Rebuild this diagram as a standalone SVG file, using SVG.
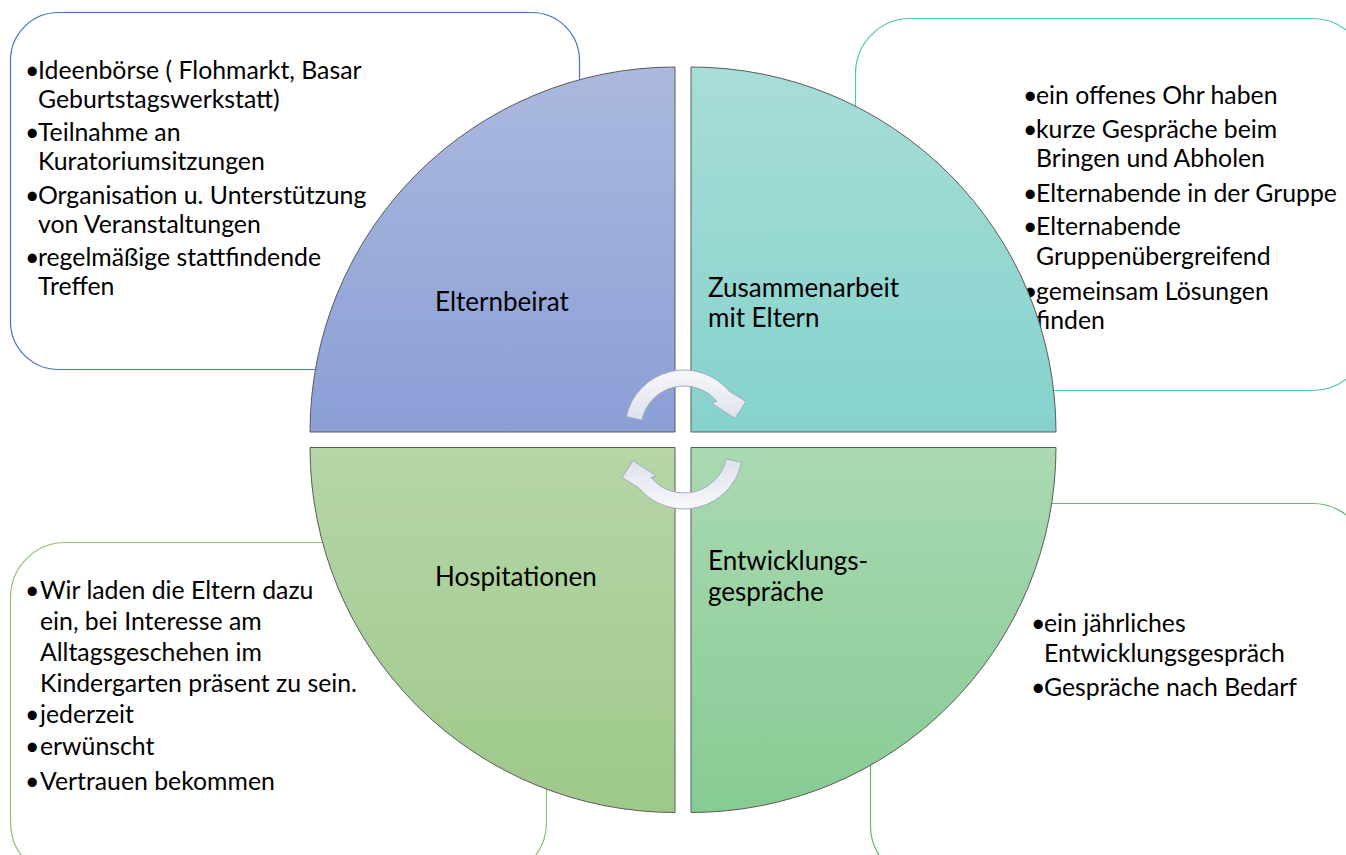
<svg xmlns="http://www.w3.org/2000/svg" width="1346" height="855" viewBox="0 0 1346 855">
<defs>
<style>
text{font-family:Lato,"Open Sans","Liberation Sans",sans-serif;font-size:24.8px;fill:#000}
.lbl{font-size:26px}
.box{fill:#fff;stroke-width:1.2}
.q{stroke:#5a5a5a;stroke-width:1}
.arr{fill:url(#ga);stroke:#a3a9bb;stroke-width:1}
</style>
<linearGradient id="g1" x1="0" y1="0" x2="0" y2="1"><stop offset="0" stop-color="#abb9de"/><stop offset="1" stop-color="#8a9fd6"/></linearGradient>
<linearGradient id="g2" x1="0" y1="0" x2="0" y2="1"><stop offset="0" stop-color="#a8ddd8"/><stop offset="1" stop-color="#85d2cc"/></linearGradient>
<linearGradient id="g3" x1="0" y1="0" x2="0" y2="1"><stop offset="0" stop-color="#b5d6a7"/><stop offset="1" stop-color="#9ec98a"/></linearGradient>
<linearGradient id="g4" x1="0" y1="0" x2="0" y2="1"><stop offset="0" stop-color="#aad9b2"/><stop offset="1" stop-color="#86cb93"/></linearGradient>
<linearGradient id="ga" x1="0" y1="0" x2="0" y2="1"><stop offset="0" stop-color="#f7f8fb"/><stop offset="1" stop-color="#dde1ec"/></linearGradient>
</defs>
<rect width="1346" height="855" fill="#fff"/>

<g id="box-elternbeirat">
<rect class="box" x="10.5" y="12.5" width="569" height="357" rx="48" stroke="#4472c4"/>
<text><tspan x="25" y="79">•</tspan><tspan x="38" y="79">Ideenbörse ( Flohmarkt, Basar</tspan></text>
<text x="38" y="108">Geburtstagswerkstatt)</text>
<text><tspan x="25" y="141">•</tspan><tspan x="38" y="141">Teilnahme an</tspan></text>
<text x="38" y="170">Kuratoriumsitzungen</text>
<text><tspan x="25" y="204">•</tspan><tspan x="38" y="204">Organisation u. Unterstützung</tspan></text>
<text x="38" y="233">von Veranstaltungen</text>
<text><tspan x="25" y="266">•</tspan><tspan x="38" y="266">regelmäßige stattfindende</tspan></text>
<text x="38" y="295">Treffen</text>
</g>

<g id="box-zusammenarbeit">
<rect class="box" x="855.5" y="18.5" width="512" height="372" rx="55" stroke="#4fc1b9"/>
<text><tspan x="1023" y="104">•</tspan><tspan x="1036" y="104">ein offenes Ohr haben</tspan></text>
<text><tspan x="1023" y="138">•</tspan><tspan x="1036" y="138">kurze Gespräche beim</tspan></text>
<text x="1036" y="167">Bringen und Abholen</text>
<text><tspan x="1023" y="202">•</tspan><tspan x="1036" y="202">Elternabende in der Gruppe</tspan></text>
<text><tspan x="1023" y="235">•</tspan><tspan x="1036" y="235">Elternabende</tspan></text>
<text x="1036" y="265">Gruppenübergreifend</text>
<text><tspan x="1023" y="300">•</tspan><tspan x="1036" y="300">gemeinsam Lösungen</tspan></text>
<text x="1036" y="329">finden</text>
</g>

<g id="box-hospitationen">
<rect class="box" x="10.5" y="542.5" width="536" height="335" rx="55" stroke="#8cc26b"/>
<text><tspan x="25" y="599">•</tspan><tspan x="40" y="599">Wir laden die Eltern dazu</tspan></text>
<text x="40" y="630">ein, bei Interesse am</text>
<text x="40" y="661">Alltagsgeschehen im</text>
<text x="40" y="692">Kindergarten präsent zu sein.</text>
<text><tspan x="25" y="723">•</tspan><tspan x="40" y="723">jederzeit</tspan></text>
<text><tspan x="25" y="755">•</tspan><tspan x="40" y="755">erwünscht</tspan></text>
<text><tspan x="25" y="790">•</tspan><tspan x="40" y="790">Vertrauen bekommen</tspan></text>
</g>

<g id="box-entwicklung">
<rect class="box" x="870.5" y="503.5" width="497" height="377" rx="55" stroke="#5fbb6d"/>
<text><tspan x="1031" y="632">•</tspan><tspan x="1044" y="632">ein jährliches</tspan></text>
<text x="1044" y="662">Entwicklungsgespräch</text>
<text><tspan x="1031" y="696">•</tspan><tspan x="1044" y="696">Gespräche nach Bedarf</tspan></text>
</g>

<g id="q-elternbeirat">
<path class="q" fill="url(#g1)" d="M675,432 L310,432 A365,365 0 0 1 675,67 Z"/>
<text class="lbl" x="435" y="311">Elternbeirat</text>
</g>
<g id="q-zusammenarbeit">
<path class="q" fill="url(#g2)" d="M691,432 L691,67 A365,365 0 0 1 1056,432 Z"/>
<text class="lbl" x="708" y="297">Zusammenarbeit</text>
<text class="lbl" x="708" y="327">mit Eltern</text>
</g>
<g id="q-hospitationen">
<path class="q" fill="url(#g3)" d="M675,447.5 L675,812.5 A365,365 0 0 1 310,447.5 Z"/>
<text class="lbl" x="435" y="586">Hospitationen</text>
</g>
<g id="q-entwicklung">
<path class="q" fill="url(#g4)" d="M691,447.5 L1056,447.5 A365,365 0 0 1 691,812.5 Z"/>
<text class="lbl" x="708" y="570">Entwicklungs-</text>
<text class="lbl" x="708" y="601">gespräche</text>
</g>

<g id="connectors">
<path class="arr" d="M626.3,416.7 A59,59 0 0 1 729.2,391.1 L746,401.5 L735,418.5 L711.5,403 L716.9,401.4 A43,43 0 0 0 641.9,420.1 Z"/>
<path class="arr" transform="rotate(180 684 439.5)" d="M626.3,416.7 A59,59 0 0 1 729.2,391.1 L746,401.5 L735,418.5 L711.5,403 L716.9,401.4 A43,43 0 0 0 641.9,420.1 Z"/>
</g>
</svg>
